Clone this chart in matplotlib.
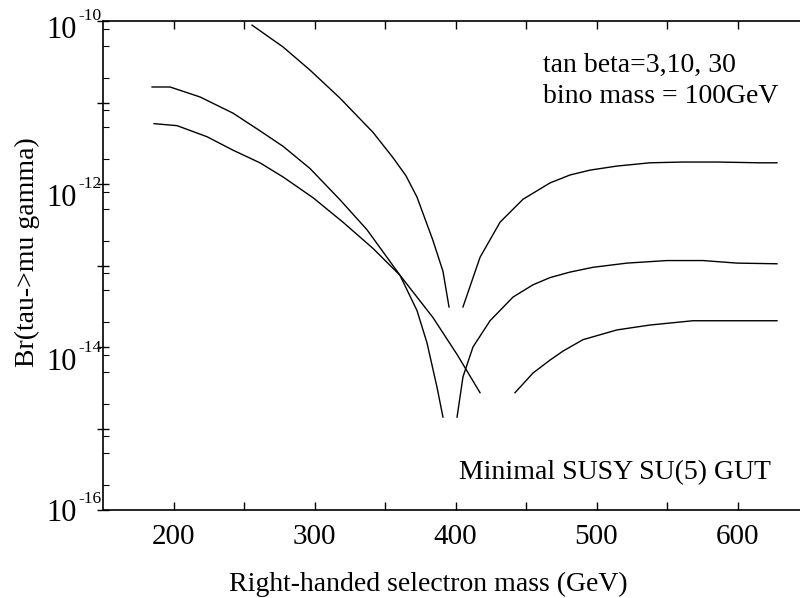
import matplotlib
matplotlib.use("Agg")
import matplotlib.pyplot as plt
from matplotlib.ticker import LogLocator, FixedLocator, NullFormatter
from matplotlib.transforms import offset_copy

plt.rcParams['font.family'] = ['Liberation Serif', 'DejaVu Serif']

# ---- data ----
# tan beta = 30
a_left_x = [255.7, 277.7, 296.8, 318.1, 341.5, 355.7, 364.9, 372.7, 384.0, 391.1, 395.4]
a_left_y = [8.9e-11, 4.8e-11, 2.5e-11, 1.13e-11, 4.3e-12, 2.1e-12, 1.26e-12, 6.9e-13, 2.03e-13, 8.5e-14, 3.1e-14]
a_right_x = [405.3, 417.4, 431.6, 447.9, 467.0, 481.2, 495.4, 514.5, 537.9, 561.3, 585.5, 616.0, 628.0]
a_right_y = [3.1e-14, 1.26e-13, 3.4e-13, 6.5e-13, 1.03e-12, 1.29e-12, 1.48e-12, 1.66e-12, 1.82e-12,
             1.86e-12, 1.86e-12, 1.82e-12, 1.82e-12]
# tan beta = 10
b_left_x = [184.8, 197.5, 218.8, 242.2, 261.3, 277.7, 296.8, 318.1, 337.2, 360.6, 372.7, 379.8, 386.9, 391.1]
b_left_y = [1.55e-11, 1.55e-11, 1.17e-11, 7.4e-12, 4.5e-12, 2.9e-12, 1.55e-12, 6.4e-13, 2.75e-13,
            7.6e-14, 2.8e-14, 1.12e-14, 3.2e-15, 1.38e-15]
b_right_x = [401.1, 405.3, 412.4, 424.5, 440.8, 455.0, 467.0, 481.2, 497.5, 521.6, 550.0, 575.5, 599.6, 628.0]
b_right_y = [1.38e-15, 4.3e-15, 1.0e-14, 2.1e-14, 4.1e-14, 5.8e-14, 7.1e-14, 8.3e-14, 9.5e-14,
             1.07e-13, 1.15e-13, 1.15e-13, 1.07e-13, 1.05e-13]
# tan beta = 3
c_left_x = [186.2, 202.5, 223.8, 242.2, 261.3, 277.7, 298.9, 320.2, 341.5, 360.6, 384.0, 401.1, 417.4]
c_left_y = [5.5e-12, 5.2e-12, 3.8e-12, 2.6e-12, 1.82e-12, 1.22e-12, 6.8e-13, 3.4e-13, 1.62e-13,
            7.6e-14, 2.3e-14, 8.1e-15, 2.75e-15]
c_right_x = [442.2, 455.0, 467.0, 476.2, 490.4, 514.5, 537.9, 568.4, 596.8, 628.0]
c_right_y = [2.75e-15, 4.8e-15, 6.9e-15, 8.9e-15, 1.23e-14, 1.62e-14, 1.86e-14, 2.1e-14, 2.1e-14, 2.1e-14]

x_ticks = [200, 300, 400, 500, 600]
x_minor_ticks = [250, 350, 450, 550, 650]
y_ticks = [1e-10, 1e-12, 1e-14, 1e-16]
y_tick_exponents = ['-10', '-12', '-14', '-16']

# ---- figure ----
fig = plt.figure(figsize=(8, 5.98), dpi=100)
ax = fig.add_axes([103/800, 1 - 510/598, 705/800, 489/598])

for xs, ys in [(a_left_x, a_left_y), (a_right_x, a_right_y),
               (b_left_x, b_left_y), (b_right_x, b_right_y),
               (c_left_x, c_left_y), (c_right_x, c_right_y)]:
    ax.plot(xs, ys, color='black', lw=1.0, solid_joinstyle='round')

ax.set_yscale('log')
ax.set_xlim(150, 650)
ax.set_ylim(1e-16, 1e-10)

ax.xaxis.set_major_locator(FixedLocator(x_ticks))
ax.xaxis.set_minor_locator(FixedLocator(x_minor_ticks))
ax.yaxis.set_major_locator(LogLocator(base=10, numticks=20))
ax.yaxis.set_major_formatter(NullFormatter())
ax.yaxis.set_minor_locator(LogLocator(base=10, subs=(2.0, 5.0, 8.0), numticks=20))
ax.yaxis.set_minor_formatter(NullFormatter())

ax.tick_params(axis='x', which='both', direction='in', top=True, bottom=True,
               length=6, width=1.0, labelsize=21, pad=10)
ax.tick_params(axis='y', which='major', direction='inout', left=True, right=False,
               length=9, width=1.0, labelleft=False)
ax.tick_params(axis='y', which='minor', direction='in', left=True, right=False,
               length=4, width=0.8)

# y decade labels: "10" with a small superscript exponent
label_drop = [17, 22, 23, 11]   # baseline of "10" below the tick, in pixels
ytrans = ax.get_yaxis_transform()
for v, ex, d in zip(y_ticks, y_tick_exponents, label_drop):
    t_main = offset_copy(ytrans, fig=fig, x=-26, y=-d, units='dots')
    ax.text(0, v, '10', transform=t_main, ha='right', va='baseline', fontsize=22)
    t_sup = offset_copy(ytrans, fig=fig, x=-25, y=-d + 18, units='dots')
    ax.text(0, v, ex, transform=t_sup, ha='left', va='baseline', fontsize=12.5)

for s in ['left', 'bottom', 'top']:
    ax.spines[s].set_linewidth(1.2)
ax.spines['right'].set_visible(False)

ax.set_xlabel('Right-handed selectron mass (GeV)', fontsize=20)
ax.xaxis.label.set_va('baseline')
ax.xaxis.set_label_coords((428 - 103) / 705, (510 - 591) / 489)

fig.text(27/800, 1 - 252/598, 'Br(tau->mu gamma)', rotation=90, ha='center', va='center', fontsize=20)

fig.text(543/800, 1 - 72/598, 'tan beta=3,10, 30', fontsize=20, va='baseline', ha='left')
fig.text(543/800, 1 - 103/598, 'bino mass = 100GeV', fontsize=20, va='baseline', ha='left')
fig.text(459/800, 1 - 479/598, 'Minimal SUSY SU(5) GUT', fontsize=20, va='baseline', ha='left')

fig.savefig('out.png', dpi=100)
